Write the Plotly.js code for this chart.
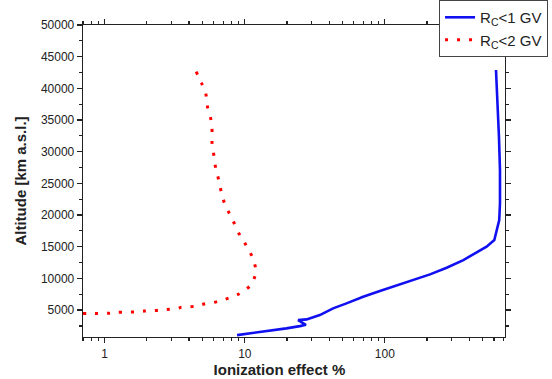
<!DOCTYPE html>
<html>
<head>
<meta charset="utf-8">
<script src="https://cdn.plot.ly/plotly-3.0.1.min.js"></script>
<style>html,body{margin:0;padding:0;background:#fff;}#chart{width:552px;height:379px;}</style>
</head>
<body>
<div id="chart"></div>
<script>
// Rc<1 GV series
var blueEffect = [8.81, 10.9, 14.3, 19.8, 24.7, 27.3, 24.0, 27.6, 34.3, 42.7, 53.2, 70.0, 92.1, 121, 159, 210, 276, 363, 452, 532, 604, 655, 663, 663, 652, 634, 621];
var blueAlt    = [1051, 1318, 1684, 2110, 2470, 2680, 3420, 3530, 4210, 5270, 6060, 7098, 8000, 8837, 9735, 10635, 11677, 12895, 14110, 15000, 16050, 19210, 21850, 27100, 32360, 37640, 42900];
// Rc<2 GV series
var redEffect = [0.70, 0.848, 1.03, 1.10, 1.20, 1.45, 1.73, 1.91, 2.05, 2.36, 2.63, 2.95, 3.34, 3.49, 3.90, 4.56, 5.09, 6.04, 6.93, 7.94, 9.17, 10.2, 11.2, 11.65, 11.99, 11.65, 11.0, 10.0, 9.21, 8.39, 7.78, 7.16, 6.77, 6.49, 6.18, 6.01, 5.84, 5.84, 5.72, 5.42, 5.29, 4.91, 4.47];
var redAlt    = [4477, 4477, 4477, 4525, 4635, 4683, 4730, 4840, 4890, 4950, 5045, 5156, 5266, 5424, 5470, 5676, 5945, 6210, 6580, 7000, 7570, 8270, 9100, 9940, 11110, 12580, 13950, 15580, 16840, 18740, 20200, 21890, 23790, 25680, 27580, 29470, 31370, 33260, 35160, 37050, 38950, 40840, 42740];

var seriesNames = ["R<sub>C</sub>&lt;1 GV", "R<sub>C</sub>&lt;2 GV"];
var xTickVals = [1, 10, 100];
var xTickText = ["1", "10", "100"];
var xMinorVals = [0.7, 0.8, 0.9, 2, 3, 4, 5, 6, 7, 8, 9, 20, 30, 40, 50, 60, 70, 80, 90, 200, 300, 400, 500, 600, 700];
var yTickVals = [5000, 10000, 15000, 20000, 25000, 30000, 35000, 40000, 45000, 50000];
var yTickText = ["5000", "10000", "15000", "20000", "25000", "30000", "35000", "40000", "45000", "50000"];

var font = "Liberation Sans, Arial, sans-serif";
var traces = [
  {x: blueEffect, y: blueAlt, name: seriesNames[0], mode: "lines", type: "scatter",
   line: {color: "#1010F0", width: 2.6}},
  {x: redEffect, y: redAlt, name: seriesNames[1], mode: "lines", type: "scatter",
   line: {color: "#FF0000", width: 3, dash: "3px,9px", shape: "spline"}}
];
var axisCommon = {showline: true, linecolor: "#222", linewidth: 1.3, mirror: "ticks",
  ticks: "outside", ticklen: 5, tickwidth: 1.2, tickcolor: "#222", showgrid: false, zeroline: false,
  tickfont: {family: font, size: 12, color: "#222"}, automargin: false};
var layout = {
  width: 552, height: 379,
  margin: {l: 83, r: 47, t: 25, b: 42, autoexpand: false},
  paper_bgcolor: "#fff", plot_bgcolor: "#fff",
  font: {family: font, color: "#222"},
  showlegend: true,
  legend: {x: 1.102, xanchor: "right", y: 1.08, yanchor: "top", bgcolor: "#fff",
    bordercolor: "#444", borderwidth: 1, font: {family: font, size: 15, color: "#222"}},
  xaxis: Object.assign({}, axisCommon, {
    type: "log", range: [Math.log10(0.7), Math.log10(720)],
    tickmode: "array", tickvals: xTickVals, ticktext: xTickText,
    minor: {tickmode: "array", tickvals: xMinorVals, ticks: "outside", ticklen: 3, tickcolor: "#222", showgrid: false},
    title: {text: "<b>Ionization effect %&nbsp;&nbsp;&nbsp;&nbsp;&nbsp;&nbsp;&nbsp;</b>", font: {family: font, size: 15, color: "#222"}, standoff: 3}
  }),
  yaxis: Object.assign({}, axisCommon, {
    range: [750, 50000], tickmode: "array", tickvals: yTickVals, ticktext: yTickText,
    minor: {dtick: 2500, ticks: "outside", ticklen: 3, tickcolor: "#222", showgrid: false},
    title: {text: "<b>Altitude [km a.s.l.]</b>", font: {family: font, size: 15, color: "#222"}, standoff: 10}
  })
};
Plotly.newPlot("chart", traces, layout, {displayModeBar: false, staticPlot: true});
</script>
</body>
</html>
